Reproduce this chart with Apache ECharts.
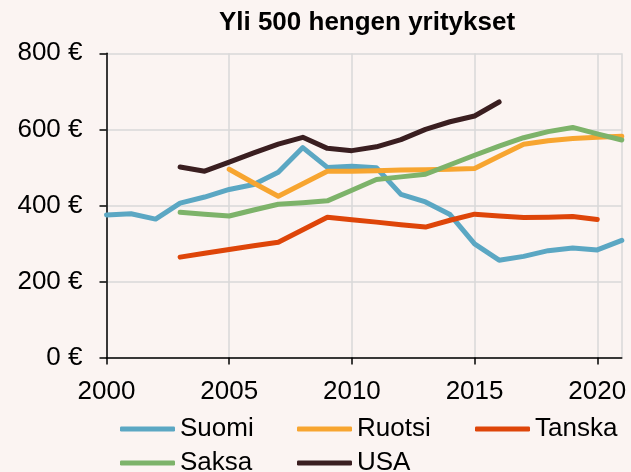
<!DOCTYPE html>
<html>
<head>
<meta charset="utf-8">
<script src="https://cdn.jsdelivr.net/npm/echarts@6/dist/echarts.min.js"></script>
<style>
  html, body { margin: 0; padding: 0; background: #fbf4f2; }
  #main { width: 631px; height: 472px; }
</style>
</head>
<body>
<div id="main"></div>
<script>
// vuodet 2000-2021, puuttuvat arvot null
var years = [2000, 2001, 2002, 2003, 2004, 2005, 2006, 2007, 2008, 2009, 2010,
             2011, 2012, 2013, 2014, 2015, 2016, 2017, 2018, 2019, 2020, 2021];
var suomi  = [375, 378, 364, 406, 422, 442, 455, 487, 552, 500, 503,
              499, 429, 409, 376, 299, 256, 266, 281, 288, 283, 308];
var ruotsi = [null, null, null, null, null, 495, 459, 424, 457, 490, 490,
              491, 493, 494, 495, 497, 529, 561, 570, 576, 579, 582];
var tanska = [null, null, null, 264, 274, 284, 294, 303, 336, 369, 362,
              356, 349, 343, 361, 377, 372, 368, 369, 371, 363, null];
var saksa  = [null, null, null, 382, 377, 372, 388, 403, 407, 412, 440,
              468, 475, 482, 507, 532, 556, 578, 594, 605, 588, 572];
var usa    = [null, null, null, 501, 490, 514, 538, 561, 579, 550, 544,
              554, 573, 600, 620, 635, 672, null, null, null, null, null];

var names  = ['Suomi', 'Ruotsi', 'Tanska', 'Saksa', 'USA'];
var colors = ['#5ba7c3', '#f7a530', '#de4509', '#7db36a', '#3a1e20'];
var values = [suomi, ruotsi, tanska, saksa, usa];

function pairs(arr) {
  return years.map(function (y, i) { return [y, arr[i]]; });
}

var font = 'Liberation Sans, Arial, sans-serif';
var myChart = echarts.init(document.getElementById('main'));

var legendPos = [[120, 416], [297, 416], [475, 416], [120, 450], [297, 450]];

var option = {
  backgroundColor: '#fbf4f2',
  animation: false,
  title: {
    text: 'Yli 500 hengen yritykset',
    left: 362,
    textAlign: 'center',
    top: 5,
    textStyle: { fontFamily: font, fontSize: 26, fontWeight: 'bold', color: '#000' }
  },
  legend: names.map(function (n, i) {
    return {
      data: [n],
      left: legendPos[i][0],
      top: legendPos[i][1],
      padding: 0,
      icon: 'roundRect',
      itemWidth: 55,
      itemHeight: 5,
      itemGap: 0,
      textStyle: { fontFamily: font, fontSize: 26, color: '#000' }
    };
  }),
  grid: { left: 106.5, right: 9.2, top: 53.3, bottom: 114.5, containLabel: false },
  xAxis: {
    type: 'value',
    min: 2000,
    max: 2021,
    interval: 5,
    axisLine: { lineStyle: { color: '#000', width: 1.5 } },
    axisTick: { length: 7, lineStyle: { color: '#000', width: 1.5 } },
    axisLabel: {
      fontFamily: font, fontSize: 26, color: '#000', margin: 21,
      formatter: function (v) { return String(v); }
    },
    splitLine: { show: true, lineStyle: { color: '#d9d9d9', width: 1.5 } }
  },
  yAxis: {
    type: 'value',
    min: 0,
    max: 800,
    interval: 200,
    axisLine: { show: true, lineStyle: { color: '#000', width: 1.5 } },
    axisTick: { show: true, length: 7, lineStyle: { color: '#000', width: 1.5 } },
    axisLabel: { fontFamily: font, fontSize: 26, color: '#000', margin: 24, formatter: '{value} €' },
    splitLine: { show: true, lineStyle: { color: '#d9d9d9', width: 1.5 } }
  },
  series: names.map(function (n, i) {
    return {
      name: n,
      type: 'line',
      data: pairs(values[i]),
      symbol: 'none',
      connectNulls: false,
      color: colors[i],
      lineStyle: { width: 5, color: colors[i], cap: 'round', join: 'round' }
    };
  })
};

myChart.setOption(option);
</script>
</body>
</html>
